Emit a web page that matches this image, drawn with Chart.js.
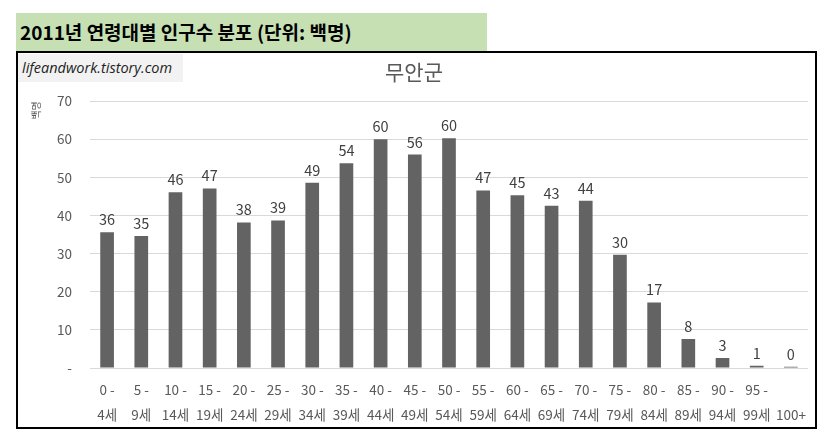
<!DOCTYPE html>
<html>
<head>
<meta charset="utf-8">
<script src="https://cdn.jsdelivr.net/npm/chart.js@4.4.0/dist/chart.umd.min.js"></script>
<style>
  body { margin: 0; background: #fff; width: 825px; height: 437px; position: relative; overflow: hidden; }
  #header {
    position: absolute; left: 16px; top: 13px; width: 471px; height: 38px;
    background: #c6e0b4; font-family: "Noto Sans CJK KR", sans-serif; font-weight: bold;
    font-size: 19px; line-height: 38px; padding-left: 4px; box-sizing: border-box; color: #000;
  }
  #box {
    position: absolute; left: 16px; top: 51px; width: 801px; height: 378px;
    border: 2px solid #000; box-sizing: border-box;
  }
  #wrap { position: absolute; left: 0; top: 0; width: 797px; height: 374px; }
  #mark {
    position: absolute; left: 0; top: 1px; width: 165px; height: 28px;
    background: #f2f2f2; font-family: "Open Sans", sans-serif; font-style: italic;
    font-size: 14.5px; line-height: 27px; padding-left: 4px; box-sizing: border-box; color: #222;
    white-space: nowrap;
  }
</style>
</head>
<body>
<div id="header">2011년 연령대별 인구수 분포 (단위: 백명)</div>
<div id="box">
  <div id="wrap"><canvas id="ageChart"></canvas></div>
  <div id="mark">lifeandwork.tistory.com</div>
</div>
<script>
var ageGroups = ['0 - 4세', '5 - 9세', '10 - 14세', '15 - 19세', '20 - 24세', '25 - 29세', '30 - 34세',
  '35 - 39세', '40 - 44세', '45 - 49세', '50 - 54세', '55 - 59세', '60 - 64세', '65 - 69세',
  '70 - 74세', '75 - 79세', '80 - 84세', '85 - 89세', '90 - 94세', '95 - 99세', '100+'];
var population = [35.6, 34.6, 46.1, 47.1, 38.2, 38.7, 48.6, 53.7, 60.0, 56.0, 60.3,
  46.6, 45.3, 42.6, 43.9, 29.7, 17.2, 7.6, 2.6, 0.6, 0.3];
var yTicks = [0, 10, 20, 30, 40, 50, 60, 70];

var labelFont = '"Noto Sans CJK KR", sans-serif';

// two-line category labels like the Excel wrap: "0 -" / "4세"
function splitLabel(s) {
  var i = s.lastIndexOf(' ');
  if (i < 0) return ['', s];
  return [s.substring(0, i), s.substring(i + 1)];
}

var barValues = {
  id: 'barValues',
  afterDatasetsDraw: function(chart) {
    var ctx = chart.ctx;
    var meta = chart.getDatasetMeta(0);
    ctx.save();
    ctx.font = '14.5px ' + labelFont;
    ctx.fillStyle = '#404040';
    ctx.textAlign = 'center';
    ctx.textBaseline = 'alphabetic';
    meta.data.forEach(function(bar, i) {
      ctx.fillText(String(Math.round(population[i])), bar.x, bar.y - 7);
    });
    ctx.restore();
  }
};

var ctx = document.getElementById('ageChart').getContext('2d');
var ageChart = new Chart(ctx, {
  type: 'bar',
  data: {
    labels: ageGroups.map(splitLabel),
    datasets: [{
      data: population,
      backgroundColor: '#636363',
      barPercentage: 0.4,
      categoryPercentage: 1.0
    }]
  },
  options: {
    responsive: true,
    maintainAspectRatio: false,
    animation: false,
    layout: { padding: { left: 0, right: 5, top: 0, bottom: 0 } },
    plugins: {
      legend: { display: false },
      tooltip: { enabled: false },
      title: {
        display: true,
        text: '무안군',
        color: '#595959',
        font: { family: labelFont, size: 21, weight: 'normal' },
        padding: { top: 6, bottom: 17 }
      }
    },
    scales: {
      x: {
        grid: { display: false, drawTicks: false },
        border: { display: true, color: '#d9d9d9' },
        ticks: {
          color: '#595959',
          font: { family: labelFont, size: 13.5, lineHeight: 1.85 },
          padding: 9,
          maxRotation: 0,
          autoSkip: false
        },
        afterFit: function(scale) { scale.height = 59; }
      },
      y: {
        min: 0,
        max: 70,
        afterBuildTicks: function(scale) {
          scale.ticks = yTicks.map(function(v) { return { value: v }; });
        },
        grid: { color: '#d9d9d9', drawTicks: false },
        border: { display: false },
        ticks: {
          color: '#595959',
          font: { family: labelFont, size: 13.5 },
          padding: 18,
          callback: function(v) { return v === 0 ? '-' : v; }
        },
        title: {
          display: true,
          text: '백명',
          align: 'end',
          color: '#595959',
          font: { family: labelFont, size: 10 },
          padding: { top: 12, bottom: 0 }
        },
        afterFit: function(scale) { scale.width = 72; }
      }
    }
  },
  plugins: [barValues]
});
</script>
</body>
</html>
